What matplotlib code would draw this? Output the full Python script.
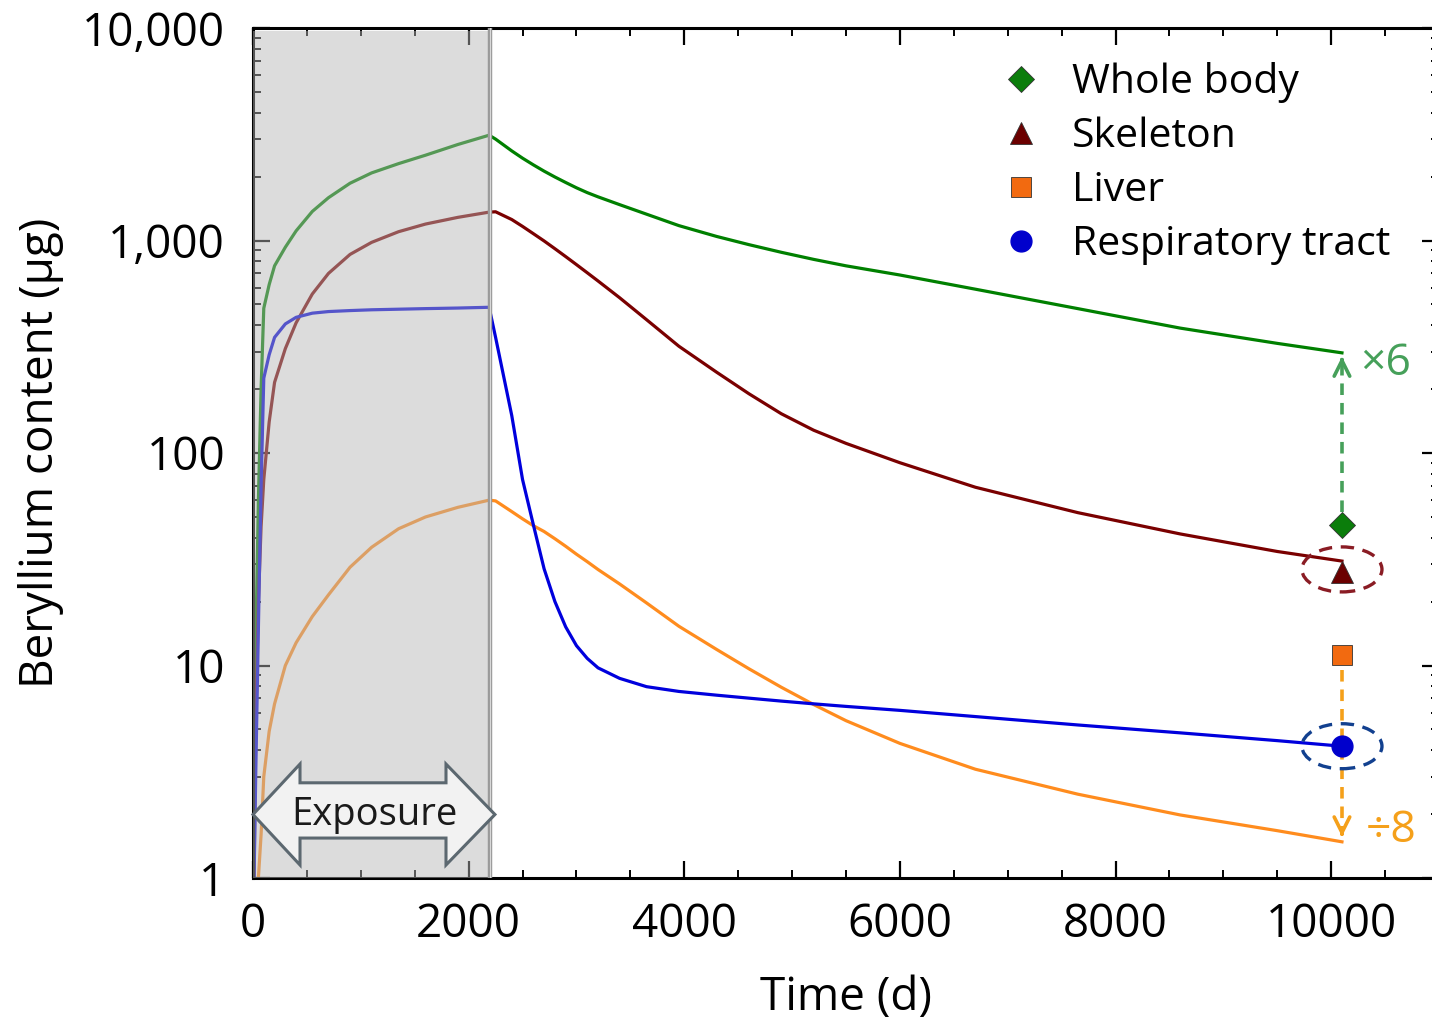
import matplotlib
matplotlib.use('Agg')
import matplotlib.pyplot as plt
from matplotlib.lines import Line2D
from matplotlib.patches import Ellipse, Polygon
from matplotlib.transforms import ScaledTranslation, blended_transform_factory
from matplotlib.ticker import FixedLocator, FixedFormatter, MultipleLocator, LogLocator, NullFormatter

plt.rcParams['font.family'] = ['Open Sans', 'DejaVu Sans']

# ---------------- data ----------------
t_days = [10, 25, 50, 75, 100, 150, 200, 300, 400, 550, 700, 900, 1100, 1350, 1600, 1900, 2190,
          2250, 2400, 2500, 2600, 2700, 2800, 2900, 3000, 3100, 3200, 3400, 3650, 3950, 4300,
          4600, 4900, 5200, 5500, 6000, 6700, 7650, 8600, 9500, 10100]
whole_body = [1.5, 12, 60, 200, 480, 620, 760, 930, 1110, 1370, 1590, 1860, 2080, 2300, 2520, 2830, 3130,
              3000, 2640, 2440, 2270, 2120, 1990, 1875, 1770, 1680, 1605, 1475, 1330, 1175, 1045,
              956, 880, 815, 760, 688, 590, 478, 387, 328, 296]
skeleton = [1.0, 5, 20, 45, 75, 140, 215, 310, 410, 560, 700, 860, 980, 1100, 1195, 1285, 1360,
            1365, 1255, 1165, 1077, 995, 915, 840, 770, 705, 645, 538, 424, 318, 240,
            190, 153, 128, 111, 90, 69, 52.4, 41.6, 34.4, 31]
liver = [0.5, 0.7, 1.0, 1.6, 3.0, 4.9, 6.6, 10, 12.8, 17, 21.5, 29, 36, 44, 50, 55.5, 60,
         59.5, 53, 49, 45.5, 42.7, 39.5, 36.4, 33.4, 30.8, 28.3, 24.2, 19.7, 15.3, 11.9,
         9.65, 7.9, 6.55, 5.5, 4.3, 3.25, 2.48, 1.98, 1.67, 1.48]
resp_tract = [1.0, 3, 15, 70, 225, 290, 350, 405, 435, 455, 463, 468, 472, 475, 478, 481, 485,
              350, 150, 75, 46, 28.5, 20, 15.2, 12.4, 10.8, 9.75, 8.7, 7.95, 7.55, 7.25,
              7.02, 6.8, 6.6, 6.42, 6.15, 5.75, 5.25, 4.82, 4.43, 4.17]

measure_day = 10100
measured = {'Whole body': 46, 'Skeleton': 27.5, 'Liver': 11.2, 'Respiratory tract': 4.17}
whole_body_end = 293
liver_end = 1.52

exposure_end = 2200
x_ticks = [0, 2000, 4000, 6000, 8000, 10000]
y_ticks = [1, 10, 100, 1000, 10000]
y_tick_labels = ['1', '10', '100', '1,000', '10,000']
factor_up = '×6'
factor_down = '÷8'

# ---------------- figure ----------------
W, H = 1432, 1024
fig = plt.figure(figsize=(W / 100, H / 100), dpi=100)
L, R, T, B = 253, 1439, 28, 878
ax = fig.add_axes([L / W, (H - B) / H, (R - L) / W, (B - T) / H])

c_green, c_red, c_orange, c_blue = '#008000', '#7a0000', '#ff8c1e', '#0000dd'
lw = 2.3
ax.plot(t_days, whole_body, color=c_green, lw=lw, zorder=2)
ax.plot(t_days, skeleton, color=c_red, lw=lw, zorder=2)
ax.plot(t_days, liver, color=c_orange, lw=lw, zorder=2)
ax.plot(t_days, resp_tract, color=c_blue, lw=lw, zorder=2)

ax.set_yscale('log')
ax.set_xlim(0, 11000)
ax.set_ylim(1, 10000)

# exposure shading
ax.axvspan(0, exposure_end, ymin=0, ymax=0.997, facecolor='#b5b5b5', alpha=0.47,
           edgecolor='none', zorder=3)
ax.axvline(exposure_end, color='#9a9a9a', lw=3.2, zorder=3.1)
ax.axvline(exposure_end, color='#d8d8d8', lw=0.8, zorder=3.2)

# exposure double arrow (x data, y axes fraction)
tr = blended_transform_factory(ax.transData, ax.transAxes)
y0, y1, s0, s1 = 0.0153, 0.1341, 0.047, 0.112
xl, xlb, xrb, xr = 0, 436, 1790, 2244
ym = (y0 + y1) / 2
poly = Polygon([(xl, ym), (xlb, y1), (xlb, s1), (xrb, s1), (xrb, y1), (xr, ym),
                (xrb, y0), (xrb, s0), (xlb, s0), (xlb, y0)], closed=True,
               transform=tr, facecolor='#f2f2f2', edgecolor='#5c6870', lw=2.2,
               zorder=4, clip_on=False)
ax.add_patch(poly)
ax.text((xl + xr) / 2, ym, 'Exposure', transform=tr, ha='center', va='center',
        fontsize=27.5, color='#1a1a1a', zorder=5)

# measured markers
mk = dict(ls='none', markeredgecolor='#333333', markeredgewidth=0.6, zorder=7)
ax.plot([measure_day], [measured['Whole body']], marker='D', ms=13, color='#0b7d0b', **mk)
ax.plot([measure_day], [measured['Skeleton']], marker='^', ms=16, color='#6b0000', **mk)
ax.plot([measure_day], [measured['Liver']], marker='s', ms=14, color='#f26a10', **mk)
ax.plot([measure_day], [measured['Respiratory tract']], marker='o', ms=15, color='#0000cc',
        ls='none', markeredgecolor='#0000cc', zorder=7)

# dashed arrows
g_arrow = '#46a05a'
o_arrow = '#f5a01a'
ax.plot([measure_day, measure_day], [measured['Whole body'] * 1.15, whole_body_end * 0.97],
        ls=(0, (3.2, 2.2)), color=g_arrow, lw=2.6, zorder=6)
ax.annotate('', xy=(measure_day, whole_body_end), xytext=(measure_day, whole_body_end * 0.9),
            arrowprops=dict(arrowstyle='->', color=g_arrow, lw=2.6, mutation_scale=28),
            zorder=6)
ax.plot([measure_day, measure_day], [measured['Liver'] * 0.85, liver_end * 1.05],
        ls=(0, (3.2, 2.2)), color=o_arrow, lw=2.6, zorder=6.5)
ax.annotate('', xy=(measure_day, liver_end), xytext=(measure_day, liver_end * 1.1),
            arrowprops=dict(arrowstyle='->', color=o_arrow, lw=2.6, mutation_scale=28),
            zorder=6)
ax.text(measure_day + 170, 262, factor_up, color=g_arrow, fontsize=32,
        ha='left', va='center', zorder=6)
ax.text(measure_day + 220, 1.66, factor_down, color=o_arrow, fontsize=32,
        ha='left', va='center', zorder=6)

# dashed ellipses
for yv, col in [(measured['Skeleton'] * 1.03, '#8a1c24'), (measured['Respiratory tract'], '#12408f')]:
    e = Ellipse((0, 0), 0.80, 0.45, transform=fig.dpi_scale_trans + ScaledTranslation(measure_day, yv, ax.transData),
                facecolor='none', edgecolor=col, lw=2.4, ls=(0, (4, 2.6)), zorder=8)
    ax.add_patch(e)

# legend
handles = [
    Line2D([], [], ls='none', marker='D', ms=13, color='#0b7d0b', markeredgecolor='#333333', markeredgewidth=0.6),
    Line2D([], [], ls='none', marker='^', ms=16, color='#6b0000', markeredgecolor='#333333', markeredgewidth=0.6),
    Line2D([], [], ls='none', marker='s', ms=14, color='#f26a10', markeredgecolor='#333333', markeredgewidth=0.6),
    Line2D([], [], ls='none', marker='o', ms=15, color='#0000cc'),
]
fig.legend(handles, list(measured.keys()), loc='upper left', bbox_to_anchor=(1001 / W, 1 - 62 / H),
           frameon=False, fontsize=29.5, handletextpad=0.74, labelspacing=0.33, handlelength=1.0,
           borderpad=0, borderaxespad=0)

# ticks and spines
ax.xaxis.set_major_locator(FixedLocator(x_ticks))
ax.xaxis.set_minor_locator(MultipleLocator(500))
ax.yaxis.set_major_locator(FixedLocator(y_ticks))
ax.yaxis.set_major_formatter(FixedFormatter(y_tick_labels))
ax.yaxis.set_minor_locator(LogLocator(base=10, subs=range(2, 10)))
ax.yaxis.set_minor_formatter(NullFormatter())
ax.tick_params(which='both', direction='in', top=True, right=True, colors='black')
ax.tick_params(which='major', length=12, width=1.6, labelsize=33)
ax.tick_params(which='minor', length=6, width=1.4)
ax.tick_params(axis='x', which='major', pad=17)
ax.tick_params(axis='y', which='major', pad=20)
for s in ax.spines.values():
    s.set_linewidth(2.2)

ax.set_xlabel('Time (d)', fontsize=33, labelpad=20)
ax.set_ylabel('Beryllium content (µg)', fontsize=33, labelpad=13)

fig.savefig('out.png', dpi=100)
